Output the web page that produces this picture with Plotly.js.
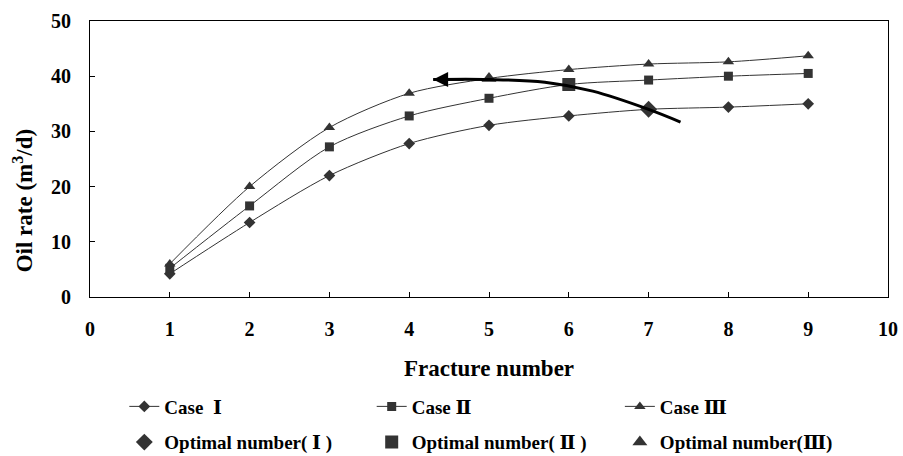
<!DOCTYPE html>
<html>
<head>
<meta charset="utf-8">
<script src="https://cdn.plot.ly/plotly-3.0.1.min.js"></script>
<style>html,body{margin:0;padding:0;background:#fff;}#chart{width:903px;height:456px;}</style>
</head>
<body>
<div id="chart"></div>
<script>
// Data
const fractureNumber = [1, 2, 3, 4, 5, 6, 7, 8, 9];
const caseI   = [4.2, 13.5, 22.0, 27.8, 31.1, 32.8, 34.0, 34.4, 35.0];
const caseII  = [5.2, 16.5, 27.2, 32.8, 36.0, 38.5, 39.3, 40.0, 40.5];
const caseIII = [6.0, 20.0, 30.7, 36.9, 39.6, 41.2, 42.2, 42.6, 43.7];
const optimalX = [7, 6, 5];
const optimalY = [34.0, 38.5, 39.6];
const romans = ["\u2160", "\u2161", "\u2162"];
const seriesPrefix = ["Case  ", "Case ", "Case "];
const optimalPrefix = ["Optimal number( ", "Optimal number( ", "Optimal number("];
const optimalSuffix = [" )", " )", ")"];
const symbols = ["diamond", "square", "triangle-up"];
// Trend arrow path (decoration)
const arrowX = [7.4, 7.0, 6.3, 5.7, 5.0, 4.3];
const arrowY = [31.7, 34.0, 37.3, 38.9, 39.4, 39.4];
const xTicks = [0,1,2,3,4,5,6,7,8,9,10];
const yTicks = [0,10,20,30,40,50];

const font = "'Liberation Serif', 'Times New Roman', serif";
const ink = "#333333";
const series = [caseI, caseII, caseIII];
const markerSizes = [9, 9, 10];
const legendIds = ["legend", "legend2", "legend3"];
const rn = (r) => '<span style="font-family:\'DejaVu Serif\', serif">' + r + '</span>';

const traces = [];
series.forEach((ys, i) => {
  traces.push({
    x: fractureNumber, y: ys, name: seriesPrefix[i] + rn(romans[i]), type: "scatter", mode: "lines+markers",
    line: {color: ink, width: 1, shape: "spline", smoothing: 0.8},
    marker: {symbol: symbols[i], size: markerSizes[i], color: ink},
    legend: legendIds[i], legendgroup: "s" + i
  });
});
optimalX.forEach((xv, i) => {
  traces.push({
    x: [xv], y: [optimalY[i]], name: optimalPrefix[i] + rn(romans[i]) + optimalSuffix[i], type: "scatter", mode: "markers",
    marker: {symbol: symbols[i], size: 13, color: ink},
    legend: legendIds[i], legendgroup: "o" + i
  });
});
traces.push({
  x: arrowX, y: arrowY, type: "scatter", mode: "lines", showlegend: false, hoverinfo: "skip",
  line: {color: "#000", width: 3, shape: "spline", smoothing: 1}
});

const legendFont = {family: font, size: 19, weight: "bold", color: "#000"};
function mkLegend(xpos) {
  return {
    orientation: "v", x: xpos, xanchor: "left", y: -0.328, yanchor: "top",
    tracegroupgap: 8, font: legendFont, bgcolor: "rgba(0,0,0,0)", borderwidth: 0
  };
}

const layout = {
  width: 903, height: 456,
  margin: {l: 90, r: 15, t: 21, b: 159, autoexpand: false},
  paper_bgcolor: "#fff", plot_bgcolor: "#fff",
  font: {family: font, color: "#000", size: 16},
  xaxis: {
    range: [0, 10], tickvals: xTicks, ticks: "inside", ticklen: 5, tickcolor: "#000",
    showline: true, mirror: true, linecolor: "#000", linewidth: 1, showgrid: false, zeroline: false,
    tickfont: {family: font, size: 20, color: "#000", weight: "bold"}, ticklabelstandoff: 14,
    title: {text: "<b>Fracture number</b>", font: {family: font, size: 23}, standoff: 20}
  },
  yaxis: {
    range: [0, 50], tickvals: yTicks, ticks: "inside", ticklen: 5, tickcolor: "#000",
    showline: true, mirror: true, linecolor: "#000", linewidth: 1, showgrid: false, zeroline: false,
    tickfont: {family: font, size: 20, color: "#000", weight: "bold"}, ticklabelstandoff: 14
  },
  legend: mkLegend(0.043),
  legend2: mkLegend(0.353),
  legend3: mkLegend(0.664),
  annotations: [{
    x: arrowX[arrowX.length - 1], y: arrowY[arrowY.length - 1],
    ax: 4.7, ay: arrowY[arrowY.length - 1], axref: "x", ayref: "y", xref: "x", yref: "y",
    text: "", showarrow: true, arrowhead: 2, arrowsize: 1.2, arrowwidth: 2.5, arrowcolor: "#000"
  }, {
    text: "<b>Oil rate (m<sup>3</sup>/d)</b>", textangle: -90, showarrow: false,
    xref: "paper", yref: "paper", x: -0.084, y: 0.35, xanchor: "center", yanchor: "middle",
    font: {family: font, size: 23, color: "#000"}
  }],
  showlegend: true
};

Plotly.newPlot("chart", traces, layout, {displayModeBar: false, staticPlot: true});
</script>
</body>
</html>
